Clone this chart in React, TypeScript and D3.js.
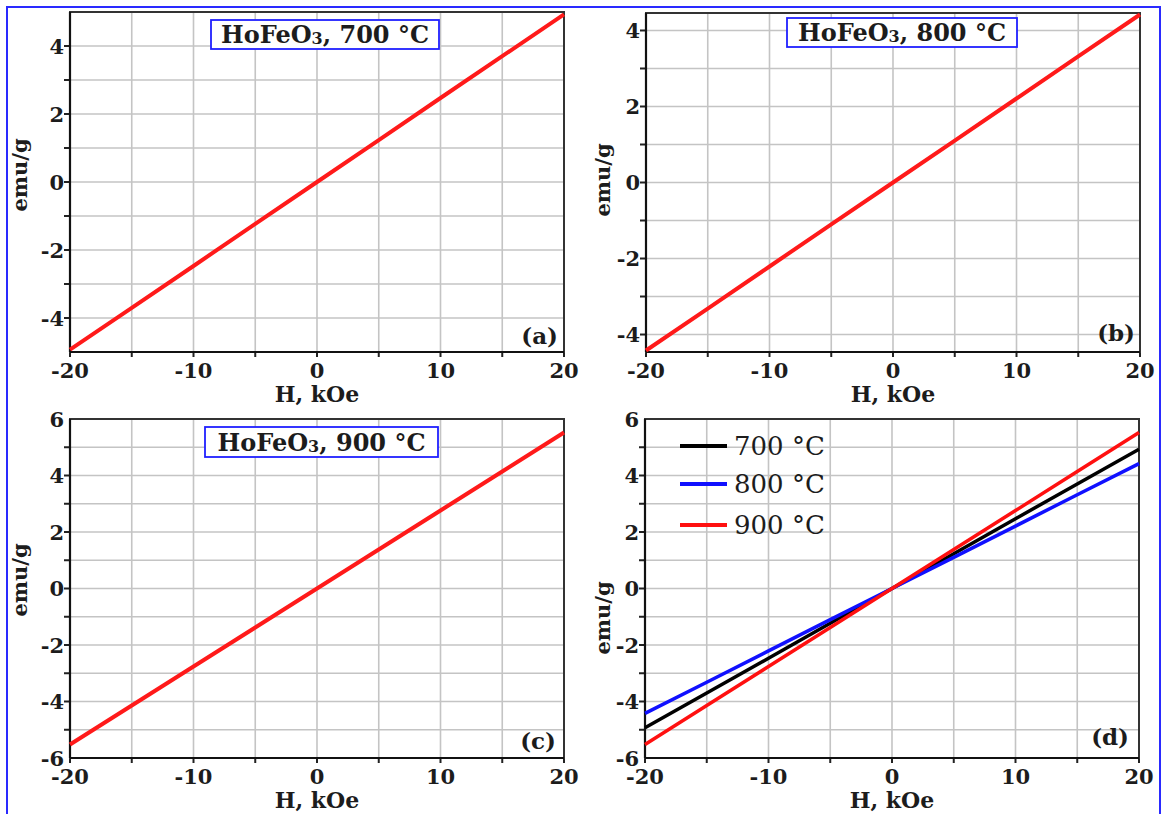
import React from "react";
import * as d3 from "d3";

const H = [-20, -15, -10, -5, 0, 5, 10, 15, 20];
const M700 = [-4.93, -3.7, -2.47, -1.23, 0, 1.23, 2.47, 3.7, 4.93];
const M800 = [-4.42, -3.32, -2.21, -1.1, 0, 1.1, 2.21, 3.32, 4.42];
const M900 = [-5.52, -4.14, -2.76, -1.38, 0, 1.38, 2.76, 4.14, 5.52];

const xTicksMajor = [-20, -10, 0, 10, 20];
const xTicksAll = [-20, -15, -10, -5, 0, 5, 10, 15, 20];

const FONT = "'DejaVu Serif', serif";
const TXT = "#1c1c1c";

type Series = { y: number[]; color: string; width: number };

type PanelProps = {
  x0: number; x1: number; y0: number; y1: number;
  yDomain: [number, number];
  yLabels: number[];
  yGrid: number[];
  series: Series[];
  title?: string;
  titleBox?: [number, number, number, number];
  tag: string;
  tagPos: [number, number];
  ylabPos: [number, number];
  xlabY: number;
  legend?: boolean;
};

function Panel(p: PanelProps) {
  const xs = d3.scaleLinear().domain([-20, 20]).range([p.x0, p.x1]);
  const ys = d3.scaleLinear().domain(p.yDomain).range([p.y1, p.y0]);
  const line = (vals: number[]) =>
    d3.line<number>().x((_, i) => xs(H[i])).y((v) => ys(v))(vals) || "";
  const legendItems = [
    { label: "700 °C", color: "#000000" },
    { label: "800 °C", color: "#1010ff" },
    { label: "900 °C", color: "#ff1010" },
  ];
  const legendY = [446, 484, 525];
  return (
    <g>
      {xTicksAll.map((t) => (
        <line key={"gx" + t} x1={xs(t)} x2={xs(t)} y1={p.y0} y2={p.y1} stroke="#c4c4c4" strokeWidth={1.6} />
      ))}
      {p.yGrid.map((t) => (
        <line key={"gy" + t} x1={p.x0} x2={p.x1} y1={ys(t)} y2={ys(t)} stroke="#c4c4c4" strokeWidth={1.6} />
      ))}
      {xTicksAll.map((t) => (
        <line key={"tx" + t} x1={xs(t)} x2={xs(t)} y1={p.y1} y2={p.y1 + 5} stroke="#222" strokeWidth={2} />
      ))}
      {p.yGrid.map((t) => (
        <line key={"ty" + t} x1={p.x0 - 6} x2={p.x0} y1={ys(t)} y2={ys(t)} stroke="#222" strokeWidth={2} />
      ))}
      <rect x={p.x0} y={p.y0} width={p.x1 - p.x0} height={p.y1 - p.y0} fill="none" stroke="#333" strokeWidth={2} />
      <line x1={p.x0} x2={p.x0} y1={p.y0} y2={p.y1} stroke="#111" strokeWidth={2.2} />
      <line x1={p.x0} x2={p.x1} y1={p.y1} y2={p.y1} stroke="#111" strokeWidth={2.2} />
      {p.series.map((s, i) => (
        <path key={"s" + i} d={line(s.y)} fill="none" stroke={s.color} strokeWidth={s.width} />
      ))}
      {xTicksMajor.map((t) => (
        <text key={"lx" + t} x={xs(t)} y={p.y1 + 26} textAnchor="middle" fontFamily={FONT} fontWeight="bold" fontSize={21} fill={TXT}>
          {t}
        </text>
      ))}
      {p.yLabels.map((t) => (
        <text key={"ly" + t} x={p.x0 - 6} y={ys(t) + 7.5} textAnchor="end" fontFamily={FONT} fontWeight="bold" fontSize={21} fill={TXT}>
          {t}
        </text>
      ))}
      <text x={(p.x0 + p.x1) / 2} y={p.xlabY} textAnchor="middle" fontFamily={FONT} fontWeight="bold" fontSize={22} fill={TXT}>
        H, kOe
      </text>
      <text
        transform={`translate(${p.ylabPos[0]},${p.ylabPos[1]}) rotate(-90)`}
        textAnchor="middle"
        fontFamily={FONT}
        fontWeight="bold"
        fontSize={21}
        fill={TXT}
      >
        emu/g
      </text>
      {p.title && p.titleBox && (
        <g>
          <rect x={p.titleBox[0]} y={p.titleBox[1]} width={p.titleBox[2]} height={p.titleBox[3]} fill="#fff" stroke="#2020ff" strokeWidth={1.8} />
          <text x={p.titleBox[0] + p.titleBox[2] / 2} y={p.titleBox[1] + p.titleBox[3] - 6} textAnchor="middle" fontFamily={FONT} fontWeight="bold" fontSize={24} fill={TXT}>
            HoFeO<tspan fontSize={16} dy={1}>3</tspan>
            <tspan dy={-1}>{", " + p.title}</tspan>
          </text>
        </g>
      )}
      {p.legend &&
        legendItems.map((it, i) => (
          <g key={"lg" + i}>
            <line x1={680} x2={727} y1={legendY[i]} y2={legendY[i]} stroke={it.color} strokeWidth={4} />
            <text x={734} y={legendY[i] + 9} fontFamily={FONT} fontSize={26} fill={TXT}>
              {it.label}
            </text>
          </g>
        ))}
      <text x={p.tagPos[0]} y={p.tagPos[1]} textAnchor="end" fontFamily={FONT} fontWeight="bold" fontSize={23} fill={TXT}>
        {p.tag}
      </text>
    </g>
  );
}

const range = (a: number, b: number) => d3.range(a, b + 1);

export default function App() {
  return (
    <svg width={1164} height={814} style={{ position: "absolute", left: 0, top: 0, background: "#fff" }}>
      <rect x={0} y={0} width={1164} height={814} fill="#fff" />
      <rect x={7} y={7} width={1153} height={830} fill="none" stroke="#2a2aff" strokeWidth={2} />
      <Panel
        x0={70} x1={564} y0={12} y1={352}
        yDomain={[-5, 5]}
        yLabels={[-4, -2, 0, 2, 4]}
        yGrid={range(-4, 4)}
        series={[{ y: M700, color: "#ff1a1a", width: 4 }]}
        title="700 °C"
        titleBox={[211, 20, 228, 29]}
        tag="(a)"
        tagPos={[558, 344]}
        ylabPos={[27, 175]}
        xlabY={402}
      />
      <Panel
        x0={646} x1={1140} y0={13} y1={352}
        yDomain={[-4.46, 4.46]}
        yLabels={[-4, -2, 0, 2, 4]}
        yGrid={range(-4, 4)}
        series={[{ y: M800, color: "#ff1a1a", width: 4 }]}
        title="800 °C"
        titleBox={[787, 18, 230, 29]}
        tag="(b)"
        tagPos={[1135, 341]}
        ylabPos={[610, 180]}
        xlabY={402}
      />
      <Panel
        x0={70} x1={564} y0={419} y1={758}
        yDomain={[-6, 6]}
        yLabels={[-6, -4, -2, 0, 2, 4, 6]}
        yGrid={range(-5, 5)}
        series={[{ y: M900, color: "#ff1a1a", width: 4 }]}
        title="900 °C"
        titleBox={[205, 427, 233, 30]}
        tag="(c)"
        tagPos={[556, 749]}
        ylabPos={[27, 580]}
        xlabY={808}
      />
      <Panel
        x0={645} x1={1139} y0={419} y1={758}
        yDomain={[-6, 6]}
        yLabels={[-6, -4, -2, 0, 2, 4, 6]}
        yGrid={range(-5, 5)}
        series={[
          { y: M700, color: "#000000", width: 3.5 },
          { y: M800, color: "#1010ff", width: 3.5 },
          { y: M900, color: "#ff1010", width: 3.5 },
        ]}
        tag="(d)"
        tagPos={[1129, 745]}
        ylabPos={[610, 618]}
        xlabY={808}
        legend
      />
    </svg>
  );
}
